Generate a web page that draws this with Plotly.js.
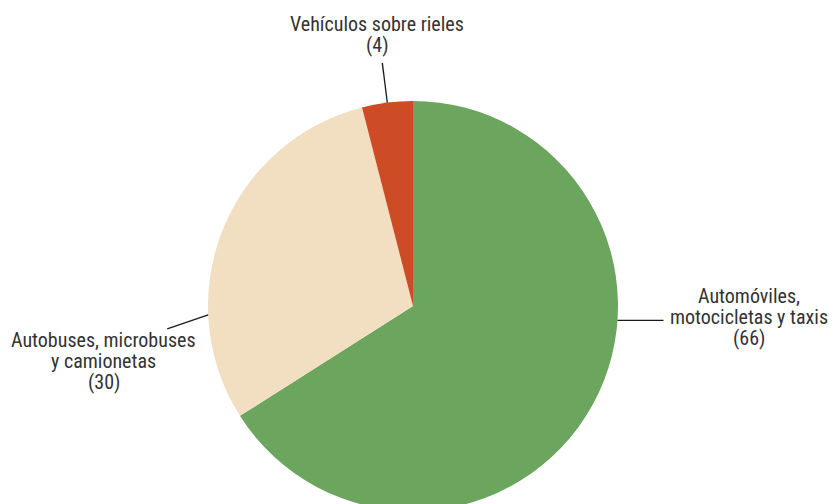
<!DOCTYPE html>
<html>
<head>
<meta charset="utf-8">
<script src="https://cdn.plot.ly/plotly-3.0.1.min.js"></script>
<style>
html,body{margin:0;padding:0;overflow:hidden;background:#fff;width:835px;height:504px;}
#chart{width:835px;height:520px;}
</style>
</head>
<body>
<div id="chart"></div>
<script>
// Data
const categories = ["Automóviles,<br>motocicletas y taxis", "Autobuses, microbuses<br>y camionetas", "Vehículos sobre rieles"];
const values = [66, 30, 4];
const colors = ["#6ba55e", "#f2dfc2", "#cd4b25"];

// Layout geometry (pixels)
const W = 835, H = 520;
const cx = 413, cy = 306, R = 205;
const FONT = '"Roboto Condensed", "Liberation Sans Narrow", "Arial Narrow", "DejaVu Sans Condensed", sans-serif';
const FONT_SIZE = 20, LINE_GAP = 21;

// Label placement: angle on pie edge (deg clockwise from top), text block center (px)
const labelAngles = [94, 267.5, null]; // null -> slice midpoint
const textPos = [[749, 317], [103.5, 361], [377, 34.5]];

function px(x){return x / W;}
function py(y){return 1 - y / H;}

// slice midpoints from data
const total = values.reduce((a,b)=>a+b,0);
let cum = 0;
const mids = values.map(v => { const m = (cum + v/2)/total*360; cum += v; return m; });

const shapes = [];
const annotations = [];
values.forEach((v, i) => {
  const ang = (labelAngles[i] === null ? mids[i] : labelAngles[i]) * Math.PI/180;
  const x0 = cx + R*Math.sin(ang), y0 = cy - R*Math.cos(ang);
  let x1, y1;
  if (i === 0) { x1 = x0 + 46; y1 = y0; }
  else if (i === 1) { x1 = x0 - 41; y1 = y0 + 14; }
  else { x1 = x0 + 40*Math.sin(ang); y1 = y0 - 40*Math.cos(ang); }
  shapes.push({type:'line', xref:'paper', yref:'paper', x0:px(x0), y0:py(y0), x1:px(x1), y1:py(y1),
    line:{color:'#1a1a1a', width:1.3}});
  const lines = (categories[i] + '<br>(' + v + ')').split('<br>');
  const n = lines.length;
  lines.forEach((t, k) => {
    const yy = textPos[i][1] + (k - (n-1)/2) * LINE_GAP;
    annotations.push({xref:'paper', yref:'paper', x:px(textPos[i][0]), y:py(yy),
      xanchor:'center', yanchor:'middle', showarrow:false, align:'center',
      text: t, font:{family:FONT, size:FONT_SIZE, color:'#333333'}});
  });
});

const trace = {
  type:'pie',
  labels: categories,
  values: values,
  marker:{colors: colors, line:{width:0}},
  sort:false,
  direction:'clockwise',
  rotation:0,
  textinfo:'none',
  hoverinfo:'skip',
  showlegend:false,
  domain:{x:[(cx-R)/W, (cx+R)/W], y:[1-(cy+R)/H, 1-(cy-R)/H]}
};

const layout = {
  width:W, height:H,
  margin:{l:0,r:0,t:0,b:0},
  paper_bgcolor:'#ffffff',
  showlegend:false,
  shapes: shapes,
  annotations: annotations,
  font:{family:FONT}
};

Plotly.newPlot('chart', [trace], layout, {displayModeBar:false, staticPlot:true});
</script>
</body>
</html>
